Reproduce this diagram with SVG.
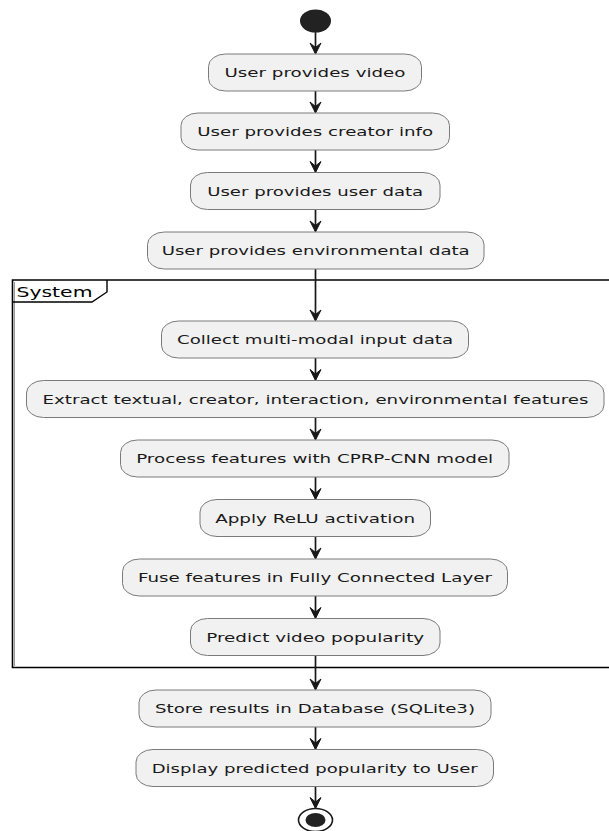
<svg xmlns="http://www.w3.org/2000/svg" width="609" height="831" viewBox="0 0 609 831">
<style>
.box{fill:#F1F1F1;stroke:#7a7a7a;stroke-width:1}
.lbl{font-family:"DejaVu Sans","Liberation Sans",sans-serif;font-size:12.7px;fill:#1a1a1a;text-anchor:middle}
.edge{stroke:#181818;stroke-width:1.7;fill:none}
.head{fill:#181818;stroke:#181818;stroke-width:1}
</style>
<defs>
<path id="ah" d="M-5.5,-11 L0,0 L5.5,-11 L0,-6.5 Z"/>
</defs>
<rect width="609" height="831" fill="#ffffff"/>
<g id="partition-system">
<path d="M611,280 H12.5 V667.5 H611" fill="none" stroke="#000" stroke-width="1.6"/>
<line x1="14.5" y1="282" x2="14.5" y2="666" stroke="#9a9a9a" stroke-width="1"/>
<path d="M12.5,302 H92 L107,292 V280" fill="none" stroke="#000" stroke-width="1.4"/>
<text x="16.5" y="296.5" font-family="DejaVu Sans, Liberation Sans, sans-serif" font-size="14.5" fill="#000" textLength="76" lengthAdjust="spacingAndGlyphs">System</text>
</g>
<g id="connectors">
<line class="edge" x1="315.5" y1="32" x2="315.5" y2="53"/>
<line class="edge" x1="315.5" y1="91" x2="315.5" y2="112"/>
<line class="edge" x1="315.5" y1="150" x2="315.5" y2="171.5"/>
<line class="edge" x1="315.5" y1="209.5" x2="315.5" y2="231"/>
<line class="edge" x1="315.5" y1="269" x2="315.5" y2="320"/>
<line class="edge" x1="315.5" y1="358" x2="315.5" y2="379.5"/>
<line class="edge" x1="315.5" y1="417.5" x2="315.5" y2="439"/>
<line class="edge" x1="315.5" y1="477" x2="315.5" y2="498.5"/>
<line class="edge" x1="315.5" y1="536.5" x2="315.5" y2="558"/>
<line class="edge" x1="315.5" y1="596" x2="315.5" y2="617.5"/>
<line class="edge" x1="315.5" y1="655.5" x2="315.5" y2="689"/>
<line class="edge" x1="315.5" y1="727" x2="315.5" y2="748.5"/>
<line class="edge" x1="315.5" y1="786.5" x2="315.5" y2="807.5"/>
<use href="#ah" class="head" x="315.5" y="54"/>
<use href="#ah" class="head" x="315.5" y="113"/>
<use href="#ah" class="head" x="315.5" y="172.5"/>
<use href="#ah" class="head" x="315.5" y="232"/>
<use href="#ah" class="head" x="315.5" y="321"/>
<use href="#ah" class="head" x="315.5" y="380.5"/>
<use href="#ah" class="head" x="315.5" y="440"/>
<use href="#ah" class="head" x="315.5" y="499.5"/>
<use href="#ah" class="head" x="315.5" y="559"/>
<use href="#ah" class="head" x="315.5" y="618.5"/>
<use href="#ah" class="head" x="315.5" y="690"/>
<use href="#ah" class="head" x="315.5" y="749.5"/>
<use href="#ah" class="head" x="315.5" y="808.5"/>
</g>
<g id="start">
<ellipse cx="315.5" cy="21" rx="15.5" ry="11.5" fill="#222222"/>
</g>
<g id="a1">
<rect class="box" x="208.5" y="54" width="213" height="37" rx="17" ry="12.5"/>
<text class="lbl" x="315" y="77" textLength="181" lengthAdjust="spacingAndGlyphs">User provides video</text>
</g>
<g id="a2">
<rect class="box" x="181" y="113" width="268.5" height="37" rx="17" ry="12.5"/>
<text class="lbl" x="315.2" y="136" textLength="236" lengthAdjust="spacingAndGlyphs">User provides creator info</text>
</g>
<g id="a3">
<rect class="box" x="190.5" y="172.5" width="249.5" height="37" rx="17" ry="12.5"/>
<text class="lbl" x="315.2" y="195.5" textLength="216" lengthAdjust="spacingAndGlyphs">User provides user data</text>
</g>
<g id="a4">
<rect class="box" x="147.5" y="232" width="336.5" height="37" rx="17" ry="12.5"/>
<text class="lbl" x="315.7" y="255" textLength="308" lengthAdjust="spacingAndGlyphs">User provides environmental data</text>
</g>
<g id="a5">
<rect class="box" x="161.5" y="321" width="307" height="37" rx="17" ry="12.5"/>
<text class="lbl" x="315" y="344" textLength="276" lengthAdjust="spacingAndGlyphs">Collect multi-modal input data</text>
</g>
<g id="a6">
<rect class="box" x="26.5" y="380.5" width="577.5" height="37" rx="17" ry="12.5"/>
<text class="lbl" x="315.5" y="403.5" textLength="546" lengthAdjust="spacingAndGlyphs">Extract textual, creator, interaction, environmental features</text>
</g>
<g id="a7">
<rect class="box" x="120.5" y="440" width="388.5" height="37" rx="17" ry="12.5"/>
<text class="lbl" x="314.7" y="463" textLength="357" lengthAdjust="spacingAndGlyphs">Process features with CPRP-CNN model</text>
</g>
<g id="a8">
<rect class="box" x="200" y="499.5" width="230.5" height="37" rx="17" ry="12.5"/>
<text class="lbl" x="315.2" y="522.5" textLength="200" lengthAdjust="spacingAndGlyphs">Apply ReLU activation</text>
</g>
<g id="a9">
<rect class="box" x="122.5" y="559" width="385" height="37" rx="17" ry="12.5"/>
<text class="lbl" x="315" y="582" textLength="354" lengthAdjust="spacingAndGlyphs">Fuse features in Fully Connected Layer</text>
</g>
<g id="a10">
<rect class="box" x="190.5" y="618.5" width="249.5" height="37" rx="17" ry="12.5"/>
<text class="lbl" x="315.2" y="641.5" textLength="218" lengthAdjust="spacingAndGlyphs">Predict video popularity</text>
</g>
<g id="a11">
<rect class="box" x="139" y="690" width="352" height="37" rx="17" ry="12.5"/>
<text class="lbl" x="315" y="713" textLength="320" lengthAdjust="spacingAndGlyphs">Store results in Database (SQLite3)</text>
</g>
<g id="a12">
<rect class="box" x="136" y="749.5" width="357.5" height="37" rx="17" ry="12.5"/>
<text class="lbl" x="314.7" y="772.5" textLength="326" lengthAdjust="spacingAndGlyphs">Display predicted popularity to User</text>
</g>
<g id="end">
<ellipse cx="315.5" cy="820" rx="17" ry="11.5" fill="#ffffff" stroke="#181818" stroke-width="1.6"/>
<ellipse cx="315.5" cy="820" rx="10" ry="7" fill="#222222"/>
</g>
</svg>
